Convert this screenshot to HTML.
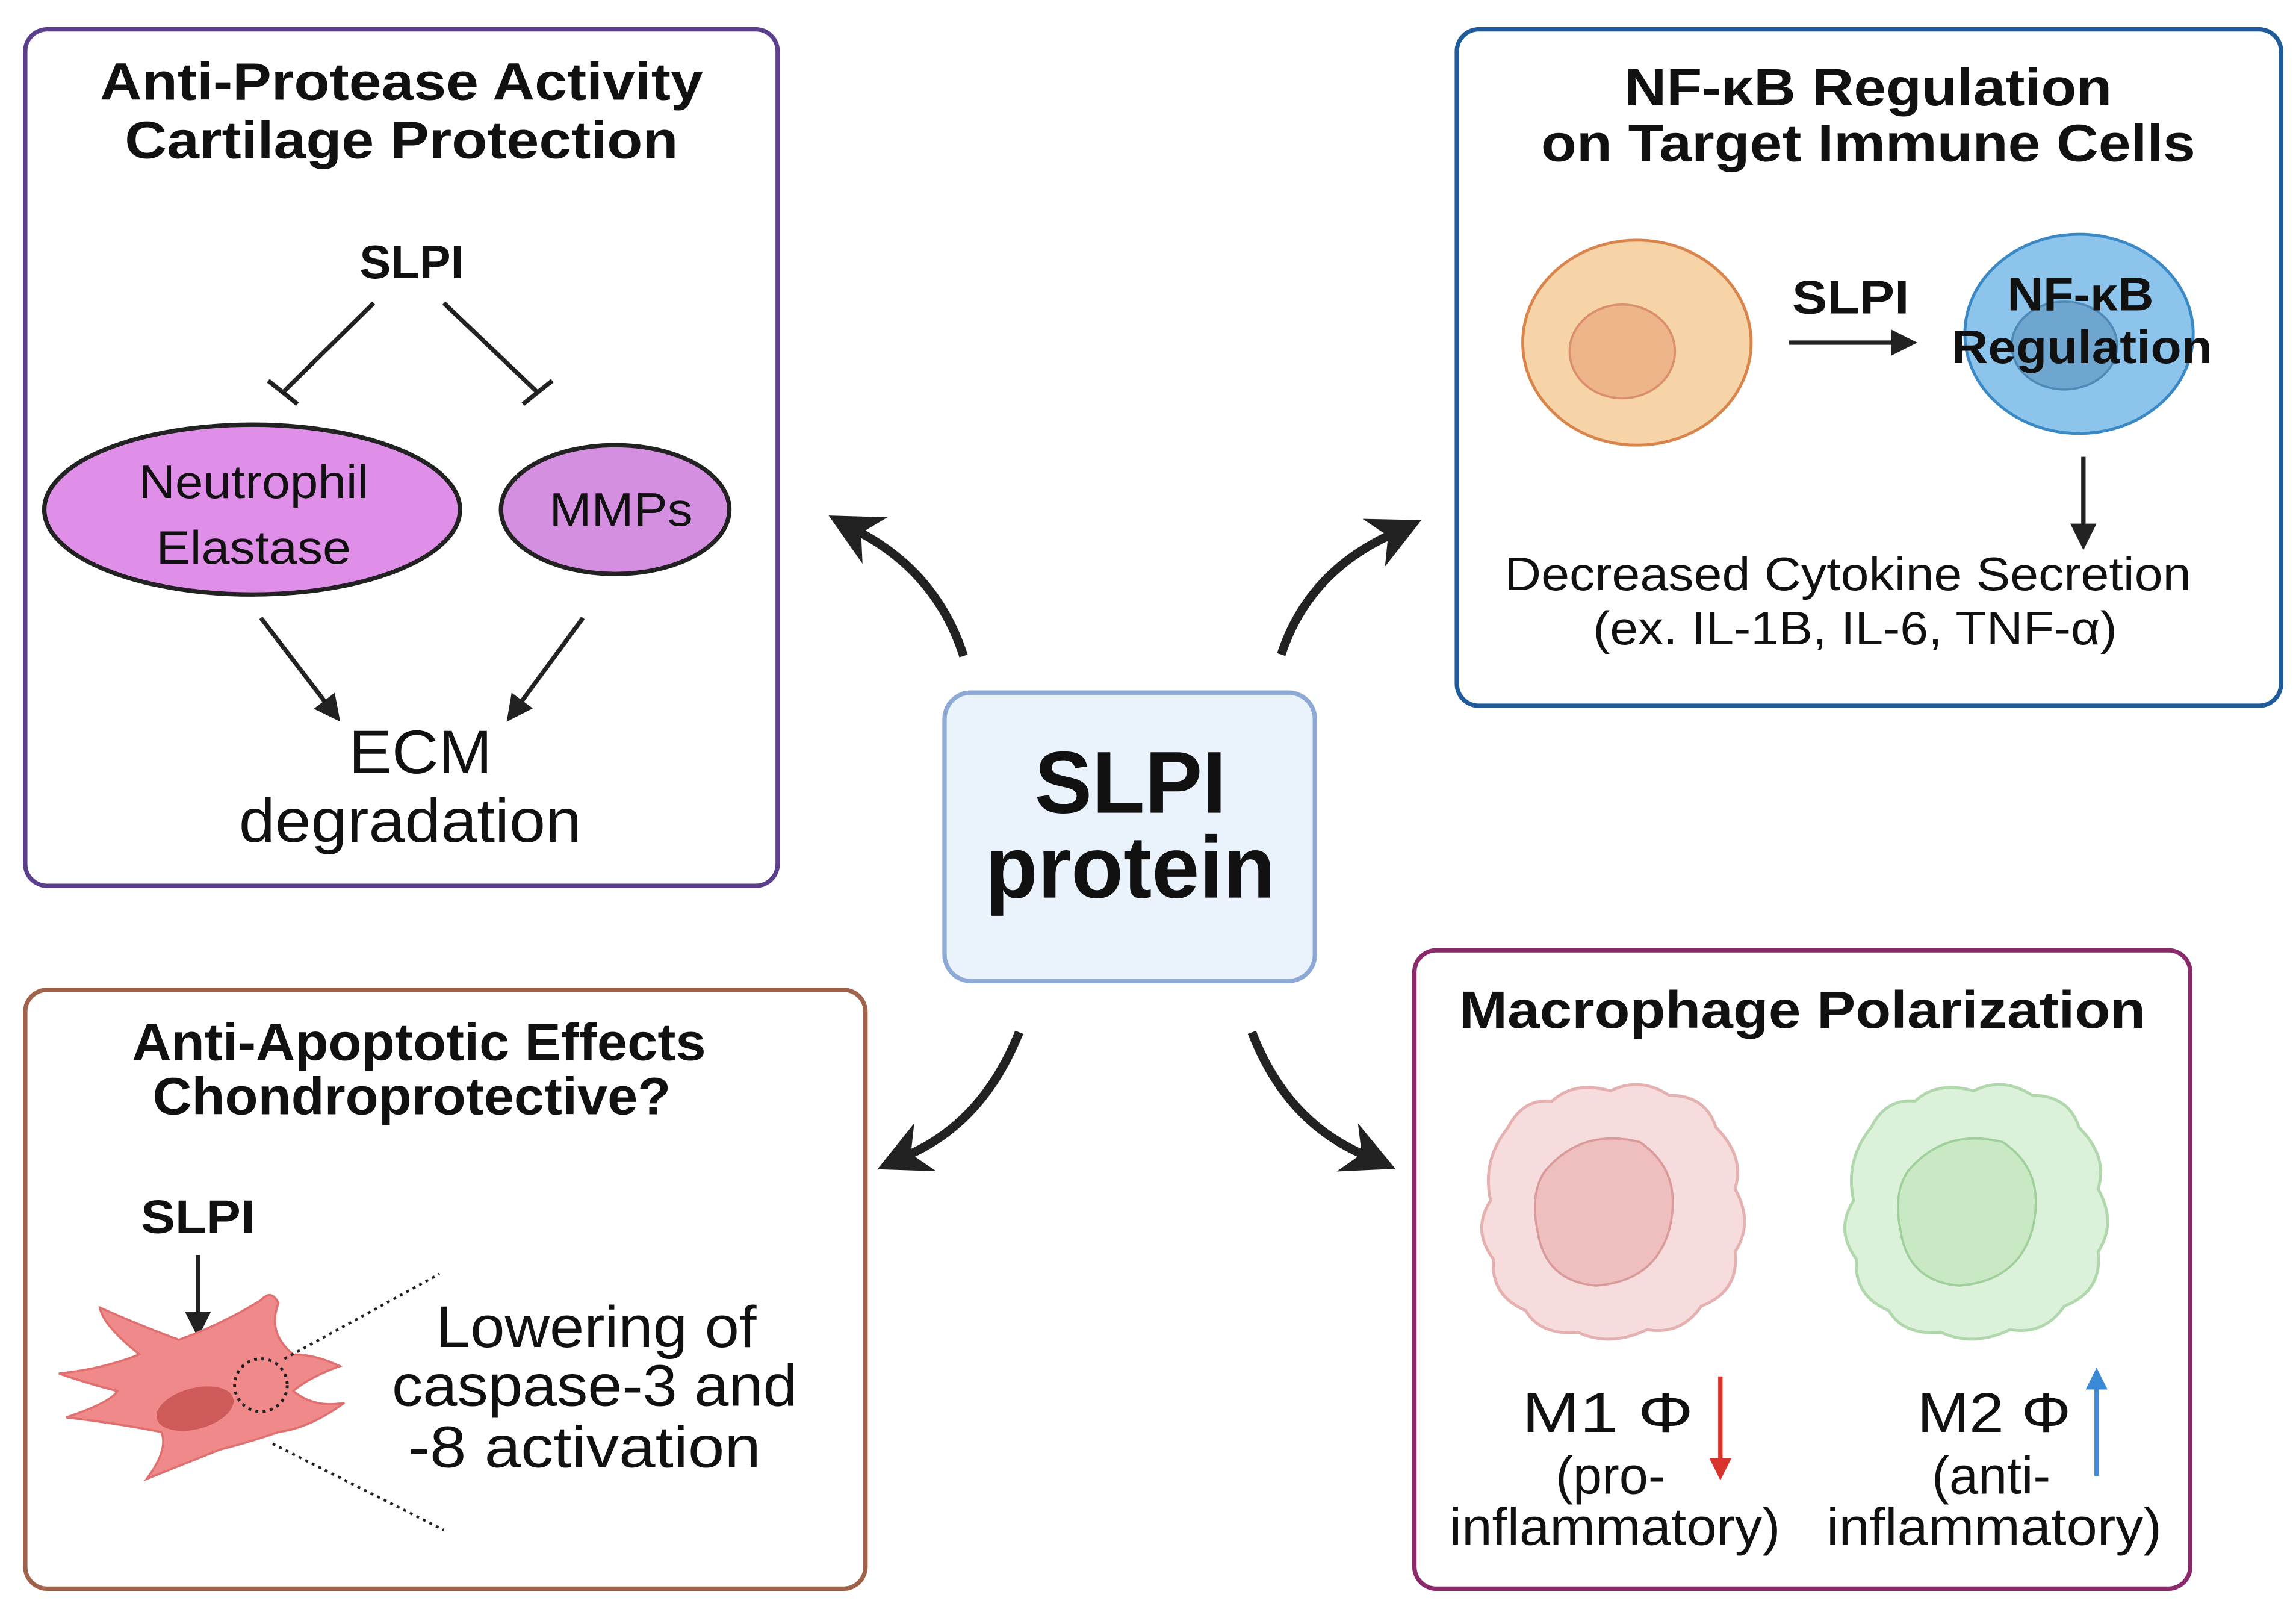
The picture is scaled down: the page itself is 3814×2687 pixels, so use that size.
<!DOCTYPE html>
<html><head><meta charset="utf-8"><style>html,body{margin:0;padding:0;background:#fff}svg{display:block}</style></head>
<body>
<svg xmlns="http://www.w3.org/2000/svg" width="3814" height="2687" viewBox="0 0 1568 1105" font-family="Liberation Sans, Arial, sans-serif">
<defs>
<marker id="ah" viewBox="0 0 10 10" refX="8" refY="5" markerWidth="6" markerHeight="6" orient="auto"><path d="M0,0 L10,5 L0,10 z" fill="#222"/></marker>
<marker id="big" viewBox="0 0 10 10" refX="3" refY="5" markerWidth="6" markerHeight="6" orient="auto"><path d="M0,0 L10,5 L0,10 L3,5 z" fill="#222"/></marker>
<marker id="red" viewBox="0 0 10 10" refX="8" refY="5" markerWidth="5" markerHeight="5" orient="auto"><path d="M0,0 L10,5 L0,10 z" fill="#d9342b"/></marker>
<marker id="blue" viewBox="0 0 10 10" refX="8" refY="5" markerWidth="5" markerHeight="5" orient="auto"><path d="M0,0 L10,5 L0,10 z" fill="#3a8ad6"/></marker>
</defs>
<rect width="1568" height="1105" fill="#fff"/>

<!-- Box 1 -->
<rect x="17" y="20" width="514" height="585" rx="15" fill="#fff" stroke="#5b3f8c" stroke-width="3"/>
<g font-weight="bold" font-size="36" text-anchor="middle" fill="#111" lengthAdjust="spacingAndGlyphs">
<text x="274" y="68" textLength="412" lengthAdjust="spacingAndGlyphs">Anti-Protease Activity</text>
<text x="274" y="108" textLength="378" lengthAdjust="spacingAndGlyphs">Cartilage Protection</text>
<text x="281" y="190" font-size="32">SLPI</text>
</g>
<g stroke="#222" stroke-width="3">
<line x1="255" y1="207" x2="193" y2="268"/><line x1="183" y1="260" x2="203" y2="276"/>
<line x1="303" y1="207" x2="367" y2="268"/><line x1="357" y1="276" x2="377" y2="260"/>
</g>
<ellipse cx="172" cy="348" rx="142" ry="58" fill="#df8fe8" stroke="#222" stroke-width="3"/>
<ellipse cx="420" cy="348" rx="78" ry="44" fill="#d58fe0" stroke="#222" stroke-width="3"/>
<g font-size="32" text-anchor="middle" fill="#111">
<text x="173" y="340" textLength="157" lengthAdjust="spacingAndGlyphs">Neutrophil</text>
<text x="173" y="385" textLength="133" lengthAdjust="spacingAndGlyphs">Elastase</text>
<text x="424" y="359" textLength="98" lengthAdjust="spacingAndGlyphs">MMPs</text>
<text x="287" y="528" font-size="42" textLength="98" lengthAdjust="spacingAndGlyphs">ECM</text>
<text x="280" y="575" font-size="42" textLength="234" lengthAdjust="spacingAndGlyphs">degradation</text>
</g>
<g stroke="#222" stroke-width="3" marker-end="url(#ah)">
<line x1="178" y1="422" x2="230" y2="490"/>
<line x1="398" y1="422" x2="348" y2="490"/>
</g>

<!-- Box 2 -->
<rect x="995" y="20" width="563" height="462" rx="15" fill="#fff" stroke="#1f5a9a" stroke-width="3"/>
<g font-weight="bold" font-size="36" text-anchor="middle" fill="#111">
<text x="1276" y="72" textLength="333" lengthAdjust="spacingAndGlyphs">NF-κB Regulation</text>
<text x="1276" y="110" textLength="447" lengthAdjust="spacingAndGlyphs">on Target Immune Cells</text>
<text x="1264" y="214" font-size="32" textLength="80" lengthAdjust="spacingAndGlyphs">SLPI</text>
</g>
<ellipse cx="1118" cy="234" rx="78" ry="70" fill="#f7d4a8" stroke="#d9844a" stroke-width="2"/>
<ellipse cx="1108" cy="240" rx="36" ry="32" fill="#eeb48a" stroke="#d9906a" stroke-width="1.5"/>
<line x1="1222" y1="234" x2="1306" y2="234" stroke="#222" stroke-width="3" marker-end="url(#ah)"/>
<ellipse cx="1420" cy="228" rx="78" ry="68" fill="#8cc4ec" stroke="#3a88c4" stroke-width="2"/>
<ellipse cx="1410" cy="236" rx="36" ry="30" fill="#6fa6cf" stroke="#4d8ab8" stroke-width="1.5"/>
<g font-weight="bold" font-size="32" text-anchor="middle" fill="#111">
<text x="1421" y="212" textLength="100" lengthAdjust="spacingAndGlyphs">NF-κB</text>
<text x="1422" y="248" textLength="178" lengthAdjust="spacingAndGlyphs">Regulation</text>
</g>
<line x1="1423" y1="312" x2="1423" y2="372" stroke="#222" stroke-width="3" marker-end="url(#ah)"/>
<g font-size="32" text-anchor="middle" fill="#111">
<text x="1262" y="403" textLength="469" lengthAdjust="spacingAndGlyphs">Decreased Cytokine Secretion</text>
<text x="1267" y="440" textLength="358" lengthAdjust="spacingAndGlyphs">(ex. IL-1B, IL-6, TNF-α)</text>
</g>

<!-- Center -->
<rect x="645" y="473" width="253" height="197" rx="18" fill="#eaf2fb" stroke="#8fa9d6" stroke-width="3"/>
<g font-weight="bold" font-size="60" text-anchor="middle" fill="#111">
<text x="772" y="555" textLength="131" lengthAdjust="spacingAndGlyphs">SLPI</text>
<text x="772" y="613" textLength="198" lengthAdjust="spacingAndGlyphs">protein</text>
</g>

<!-- curved arrows -->
<g fill="none" stroke="#222" stroke-width="6" marker-end="url(#big)">
<path d="M658,448 Q640,392 588,364"/>
<path d="M875,447 Q893,392 948,366"/>
<path d="M696,705 Q672,765 622,788"/>
<path d="M855,705 Q878,765 930,788"/>
</g>

<!-- Box 3 -->
<rect x="17" y="676" width="574" height="409" rx="15" fill="#fff" stroke="#a0624a" stroke-width="3"/>
<g font-weight="bold" font-size="36" text-anchor="middle" fill="#111">
<text x="286" y="724" textLength="392" lengthAdjust="spacingAndGlyphs">Anti-Apoptotic Effects</text>
<text x="281" y="761" textLength="354" lengthAdjust="spacingAndGlyphs">Chondroprotective?</text>
<text x="135" y="842" font-size="32" textLength="78" lengthAdjust="spacingAndGlyphs">SLPI</text>
</g>
<line x1="135" y1="857" x2="135" y2="910" stroke="#222" stroke-width="3" marker-end="url(#ah)"/>
<path d="M40,938 Q70,935 95,925 Q70,905 68,893 Q95,905 122,915 Q150,905 178,888 Q185,880 190,890 Q182,910 200,925 Q215,925 232,933 Q212,940 200,950 Q215,962 235,958 Q212,975 190,978 Q170,985 150,990 Q125,1000 100,1010 Q115,990 110,978 Q80,972 45,968 Q75,958 80,950 Q60,945 40,938 z" fill="#f08a8a" stroke="#e07070" stroke-width="1.5"/>
<ellipse cx="133" cy="962" rx="27" ry="14" fill="#cf5a5a" transform="rotate(-15 133 962)"/>
<circle cx="178" cy="946" r="18" fill="none" stroke="#222" stroke-width="2" stroke-dasharray="2,3"/>
<g stroke="#222" stroke-width="1.8" stroke-dasharray="2,3">
<line x1="194" y1="928" x2="300" y2="870"/>
<line x1="186" y1="986" x2="303" y2="1045"/>
</g>
<g font-size="40" text-anchor="middle" fill="#111">
<text x="407" y="920" textLength="219" lengthAdjust="spacingAndGlyphs">Lowering of</text>
<text x="406" y="960" textLength="277" lengthAdjust="spacingAndGlyphs">caspase-3 and</text>
<text x="399" y="1002" textLength="241" lengthAdjust="spacingAndGlyphs">-8 activation</text>
</g>

<!-- Box 4 -->
<rect x="966" y="649" width="530" height="436" rx="15" fill="#fff" stroke="#8a2a6a" stroke-width="3"/>
<text x="1231" y="702" font-weight="bold" font-size="36" text-anchor="middle" fill="#111" textLength="469" lengthAdjust="spacingAndGlyphs">Macrophage Polarization</text>
<path d="M1030,770 Q1040,750 1060,752 Q1075,738 1100,745 Q1120,735 1140,748 Q1165,748 1172,770 Q1192,790 1185,812 Q1198,835 1185,855 Q1188,882 1162,892 Q1148,912 1125,908 Q1100,920 1078,910 Q1052,912 1042,895 Q1018,885 1020,860 Q1005,840 1018,820 Q1012,792 1030,770 z" fill="#f6dcdc" stroke="#e4b0b0" stroke-width="2"/>
<path d="M1055,800 Q1080,770 1120,780 Q1150,800 1140,840 Q1130,875 1090,878 Q1055,875 1050,840 Q1045,815 1055,800 z" fill="#efbebe" stroke="#d99a9a" stroke-width="1.5"/>
<path d="M1278,770 Q1288,750 1308,752 Q1323,738 1348,745 Q1368,735 1388,748 Q1413,748 1420,770 Q1440,790 1433,812 Q1446,835 1433,855 Q1436,882 1410,892 Q1396,912 1373,908 Q1348,920 1326,910 Q1300,912 1290,895 Q1266,885 1268,860 Q1253,840 1266,820 Q1260,792 1278,770 z" fill="#dcf1da" stroke="#b0d8ac" stroke-width="2"/>
<path d="M1303,800 Q1328,770 1368,780 Q1398,800 1388,840 Q1378,875 1338,878 Q1303,875 1298,840 Q1293,815 1303,800 z" fill="#c8e9c4" stroke="#9fcf9a" stroke-width="1.5"/>
<g font-size="38" text-anchor="middle" fill="#111">
<text x="1098" y="978" textLength="117" lengthAdjust="spacingAndGlyphs">M1 Φ</text>
<text x="1362" y="978" textLength="105" lengthAdjust="spacingAndGlyphs">M2 Φ</text>
<text x="1100" y="1020" font-size="36" textLength="75" lengthAdjust="spacingAndGlyphs">(pro-</text>
<text x="1103" y="1055" font-size="36" textLength="226" lengthAdjust="spacingAndGlyphs">inflammatory)</text>
<text x="1360" y="1020" font-size="36" textLength="81" lengthAdjust="spacingAndGlyphs">(anti-</text>
<text x="1362" y="1055" font-size="36" textLength="229" lengthAdjust="spacingAndGlyphs">inflammatory)</text>
</g>
<line x1="1175" y1="940" x2="1175" y2="1008" stroke="#d9342b" stroke-width="3" marker-end="url(#red)"/>
<line x1="1432" y1="1008" x2="1432" y2="937" stroke="#3a8ad6" stroke-width="3" marker-end="url(#blue)"/>
</svg>
</body></html>
